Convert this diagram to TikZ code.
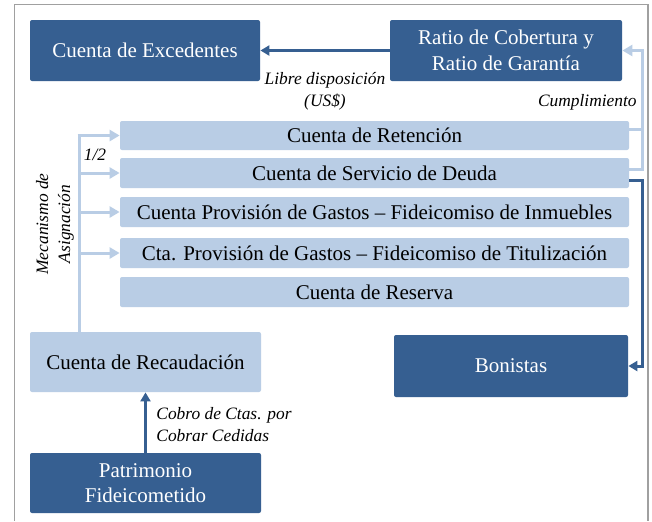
\documentclass[tikz,border=0pt]{standalone}
\usepackage{fontspec}
\setmainfont{Liberation Serif}
\usetikzlibrary{arrows.meta,calc}
\definecolor{darkb}{HTML}{365F91}
\definecolor{lightb}{HTML}{B9CDE5}
\definecolor{framec}{HTML}{A0A0A0}
\tikzset{
  darkbox/.style={draw=none,fill=darkb,text=white,rounded corners=1pt,align=center,inner sep=0pt,
    font=\fontsize{10.5}{12.8}\selectfont},
  lightbox/.style={draw=none,fill=lightb,text=black,rounded corners=1pt,align=center,inner sep=0pt,
    font=\fontsize{10.5}{12.8}\selectfont},
  lightline/.style={draw=lightb,line width=1.5pt},
  darkline/.style={draw=darkb,line width=1.5pt},
  larrow/.style={-{Triangle[length=5pt,width=5.5pt]}},
  darrow/.style={-{Triangle[length=4.5pt,width=5pt]}},
  lbl/.style={font=\fontsize{8.7}{11}\selectfont\itshape,inner sep=0pt}
}
\begin{document}
\begin{tikzpicture}[x=0.5pt,y=-0.5pt]
\useasboundingbox (0,0) rectangle (652,521);
\fill[white] (0,0) rectangle (652,521);
% frame
\draw[framec,line width=0.8pt] (14.5,521) -- (14.5,4.5) -- (648,4.5) -- (648,521);
% boxes
\node[darkbox,minimum width=115pt,minimum height=30.5pt] (exc) at (145,50.5) {Cuenta de Excedentes};
\node[darkbox,minimum width=116pt,minimum height=30.5pt] (ratio) at (506,50.5) {Ratio de Cobertura y\\Ratio de Garantía};
\node[lightbox,minimum width=254.5pt,minimum height=14.5pt] (ret) at (374.5,135.5) {Cuenta de Retención};
\node[lightbox,minimum width=254.5pt,minimum height=15pt] (serv) at (374.5,173) {Cuenta de Servicio de Deuda};
\node[lightbox,minimum width=254.5pt,minimum height=15pt] (inm) at (374.5,212) {Cuenta Provisión de Gastos -- Fideicomiso de Inmuebles};
\node[lightbox,minimum width=254.5pt,minimum height=15pt] (tit) at (374.5,253) {Cta. Provisión de Gastos -- Fideicomiso de Titulización};
\node[lightbox,minimum width=254.5pt,minimum height=15pt] (res) at (374.5,292) {Cuenta de Reserva};
\node[lightbox,minimum width=115.5pt,minimum height=30pt] (rec) at (145.5,362) {Cuenta de Recaudación};
\node[darkbox,minimum width=115.5pt,minimum height=30pt] (pat) at (145.5,483) {Patrimonio\\Fideicometido};
\node[darkbox,minimum width=117pt,minimum height=31pt] (bon) at (511,366) {Bonistas};
% helper coordinates
\coordinate (rx) at (642,0);
\coordinate (mx) at (79,0);
% top arrow
\draw[darkline,darrow] (ratio.west) -- (exc.east);
\node[lbl,align=center] (libre) at (325,91) {Libre disposición\\(US\$)};
% compliance loop
\draw[lightline] ([yshift=3pt]ret.east) -- ([yshift=3pt]ret.east -| rx);
\draw[lightline,larrow] ([yshift=2pt]serv.east) -| (rx |- ratio.east) -- (ratio.east);
\node[lbl,anchor=east] (cumpl) at (637,102) {Cumplimiento};
% to bonistas
\draw[darkline,darrow] ([yshift=-3.5pt]serv.east) -| (rx |- bon.east) -- (bon.east);
% allocation mechanism
\draw[lightline] ([yshift=-0.75pt]mx |- ret.west) -- (mx |- rec.north);
\draw[lightline,larrow] ([xshift=-0.75pt]mx |- ret.west) -- (ret.west);
\draw[lightline,larrow] (mx |- serv.west) -- (serv.west);
\draw[lightline,larrow] (mx |- inm.west) -- (inm.west);
\draw[lightline,larrow] (mx |- tit.west) -- (tit.west);
\node[lbl] (half) at (95,155) {1/2};
\node[lbl,rotate=90,align=center] (mec) at (55,224) {Mecanismo de\\Asignación};
% collection
\draw[darkline,darrow] (pat.north) -- (rec.south);
\node[lbl,anchor=west,align=left] (cobro) at (156,425) {Cobro de Ctas. por\\Cobrar Cedidas};
\end{tikzpicture}
\end{document}
